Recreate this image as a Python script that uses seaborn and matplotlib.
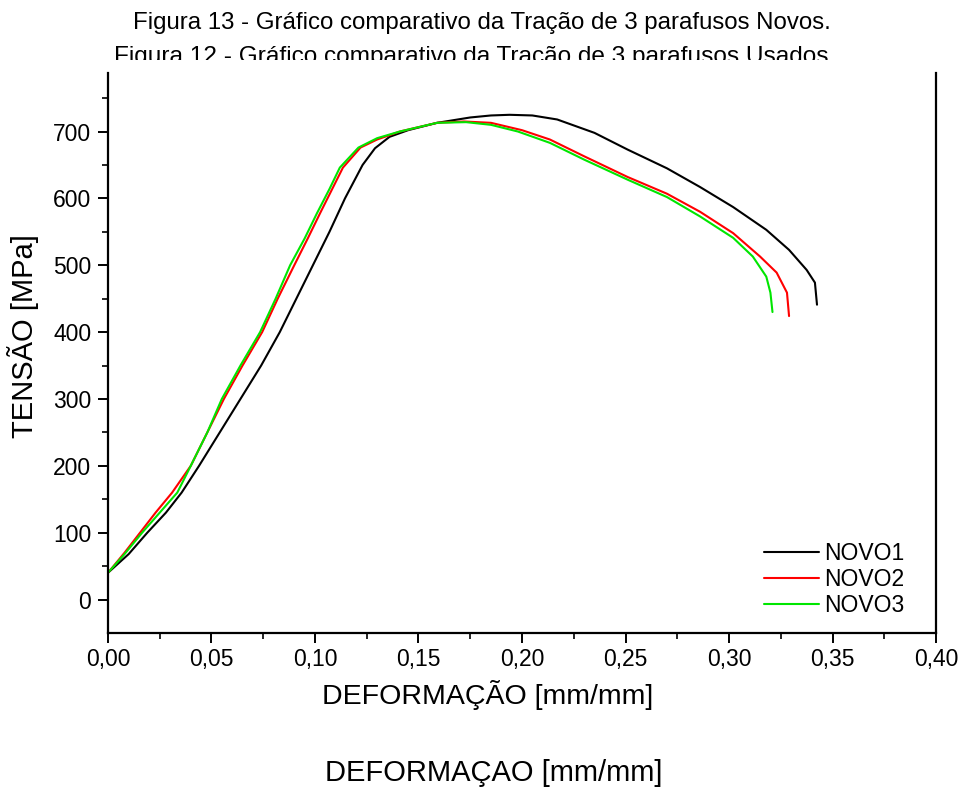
import numpy as np
import pandas as pd
import matplotlib
matplotlib.use("Agg")
import matplotlib.pyplot as plt
from matplotlib.ticker import MultipleLocator, FuncFormatter
import seaborn as sns

# curve NOVO1
novo1_x = [0, 0.01, 0.019, 0.028, 0.0356, 0.044, 0.054, 0.064, 0.074, 0.083, 0.091, 0.099,
           0.107, 0.1145, 0.123, 0.129, 0.136, 0.145, 0.159, 0.175, 0.185, 0.194, 0.205,
           0.217, 0.235, 0.251, 0.27, 0.286, 0.302, 0.318, 0.329, 0.3375, 0.3415, 0.3425]
novo1_y = [40, 68, 100, 130, 160, 200, 250, 300, 350, 400, 450, 500,
           550, 600, 650, 675, 692, 702, 713, 721, 724, 725, 724,
           718, 698, 673, 645, 617, 587, 553, 523, 493, 474, 441]

# curve NOVO2
novo2_x = [0, 0.008, 0.0155, 0.023, 0.031, 0.040, 0.048, 0.056, 0.065, 0.0745, 0.082, 0.09,
           0.0965, 0.1025, 0.108, 0.1135, 0.122, 0.13, 0.141, 0.159, 0.172, 0.185, 0.2,
           0.2135, 0.23, 0.251, 0.27, 0.286, 0.302, 0.315, 0.323, 0.328, 0.329]
novo2_y = [40, 70, 100, 130, 160, 200, 250, 300, 350, 400, 450, 500,
           540, 578, 612, 646, 676, 688, 700, 713, 715, 713, 702,
           688, 663, 632, 607, 580, 548, 513, 489, 459, 424]

# curve NOVO3
novo3_x = [0, 0.008, 0.0165, 0.025, 0.0335, 0.040, 0.048, 0.055, 0.064, 0.0735, 0.081, 0.088,
           0.095, 0.101, 0.107, 0.112, 0.121, 0.13, 0.141, 0.159, 0.173, 0.185, 0.198,
           0.2135, 0.23, 0.251, 0.27, 0.286, 0.302, 0.3115, 0.318, 0.320, 0.321]
novo3_y = [40, 68, 100, 130, 160, 200, 250, 300, 350, 400, 450, 500,
           540, 578, 614, 646, 676, 690, 700, 713, 714, 710, 700,
           683, 658, 628, 602, 573, 541, 513, 483, 459, 430]

series = ["NOVO1", "NOVO2", "NOVO3"]
colors = ["#000000", "#ff0000", "#00e600"]

df = pd.concat([
    pd.DataFrame({"x": novo1_x, "y": novo1_y, "serie": "NOVO1"}),
    pd.DataFrame({"x": novo2_x, "y": novo2_y, "serie": "NOVO2"}),
    pd.DataFrame({"x": novo3_x, "y": novo3_y, "serie": "NOVO3"}),
])

sns.set_style("ticks")
plt.rcParams['font.family'] = ['Liberation Sans', 'DejaVu Sans']
plt.rcParams['text.color'] = 'black'
plt.rcParams['axes.labelcolor'] = 'black'
plt.rcParams['xtick.color'] = 'black'
plt.rcParams['ytick.color'] = 'black'

fig = plt.figure(figsize=(9.63, 7.88), dpi=100)
ax = fig.add_axes([0.1121, 0.1967, 0.8599, 0.7272])

sns.lineplot(data=df, x="x", y="y", hue="serie", palette=dict(zip(series, colors)),
             estimator=None, sort=False, linewidth=1.5, ax=ax)

ax.set_xlim(0, 0.40)
ax.set_ylim(-50, 807)
ax.xaxis.set_major_locator(MultipleLocator(0.05))
ax.xaxis.set_minor_locator(MultipleLocator(0.025))
ax.xaxis.set_major_formatter(FuncFormatter(lambda v, p: f"{v:.2f}".replace(".", ",")))
ax.set_yticks(np.arange(0, 701, 100))
ax.set_yticks(np.arange(50, 751, 100), minor=True)

ax.spines["top"].set_visible(False)
for s in ["left", "right", "bottom"]:
    ax.spines[s].set_linewidth(1.6)
    ax.spines[s].set_color("black")
ax.spines["left"].set_bounds(-50, 788)
ax.spines["right"].set_bounds(-50, 788)

ax.tick_params(axis="both", which="major", direction="out", length=7, width=1.4,
               labelsize=16.5, colors="black")
ax.tick_params(axis="y", which="major", pad=5)
ax.tick_params(axis="both", which="minor", direction="out", length=4, width=1.2)

ax.set_xlabel("DEFORMAÇÃO [mm/mm]", fontsize=20.5)
ax.xaxis.set_label_coords(0.459, -0.082)
ax.set_ylabel("TENSÃO [MPa]", fontsize=21)
ax.yaxis.set_label_coords(-0.083, 0.518)

ax.legend(frameon=False, loc="lower right", bbox_to_anchor=(0.973, 0.012), borderaxespad=0,
          fontsize=16.5, handlelength=2.4, handletextpad=0.25, labelspacing=0.12, title=None)

fig.text(0.5, 0.971, "Figura 13 - Gráfico comparativo da Tração de 3 parafusos Novos.",
         ha="center", va="center", fontsize=17.3, zorder=-1)
fig.text(0.493, 0.9277, "Figura 12 - Gráfico comparativo da Tração de 3 parafusos Usados.",
         ha="center", va="center", fontsize=17.6, zorder=-1)
fig.text(0.513, 0.019, "DEFORMAÇAO [mm/mm]", ha="center", va="center", fontsize=21, zorder=-1)

fig.savefig("out.png", dpi=100)
